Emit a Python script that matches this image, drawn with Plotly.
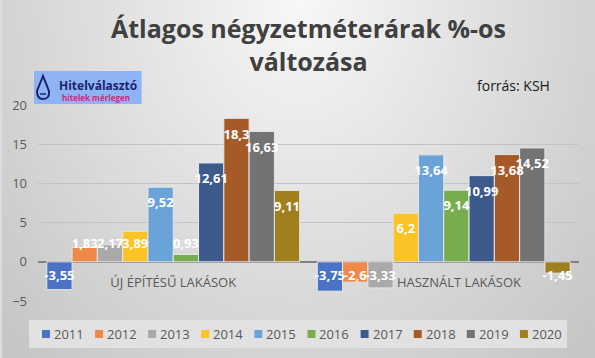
import zlib, struct, base64, math
import plotly.graph_objects as go

# ---------------- data ----------------
categories = ["ÚJ ÉPÍTÉSŰ LAKÁSOK", "HASZNÁLT LAKÁSOK"]
years = ["2011", "2012", "2013", "2014", "2015", "2016", "2017", "2018", "2019", "2020"]
values_new = [-3.55, 1.83, 2.17, 3.89, 9.52, 0.93, 12.61, 18.3, 16.63, 9.11]
values_used = [-3.75, -2.6, -3.33, 6.2, 13.64, 9.14, 10.99, 13.68, 14.52, -1.45]
colors = ["#4a73c6", "#ee8948", "#a9a9a9", "#fcc326", "#6aa3d8", "#76ae4f",
          "#3c5a8b", "#a65a28", "#737373", "#a07f1e"]
y_ticks = [-5, 0, 5, 10, 15, 20]

# ---------------- layout constants ----------------
W, H = 595, 358
L, R, T, B = 36, 16, 105, 57
PW, PH = W - L - R, H - T - B
YMIN, YMAX = -5, 20
UNIT_PX = PH / (YMAX - YMIN)
LBL_OFF = 17 / UNIT_PX  # label offset in data units


def px(x):
    return (x - L) / PW


def py(y):
    return (H - B - y) / PH


# ---------------- background gradient image ----------------
def make_png(w, h, rows):
    raw = b"".join(b"\x00" + bytes(r) for r in rows)

    def chunk(t, d):
        c = struct.pack(">I", len(d)) + t + d
        return c + struct.pack(">I", zlib.crc32(t + d) & 0xFFFFFFFF)

    return (b"\x89PNG\r\n\x1a\n" + chunk(b"IHDR", struct.pack(">IIBBBBB", w, h, 8, 0, 0, 0, 0))
            + chunk(b"IDAT", zlib.compress(raw)) + chunk(b"IEND", b""))


gw, gh = 119, 72
rows = []
for j in range(gh):
    row = []
    for i in range(gw):
        dx = (i / (gw - 1) * W - 297) / 297
        dy = (j / (gh - 1) * H) / 358
        d = math.sqrt(dx * dx + dy * dy)
        row.append(max(0, min(255, int(248 - 36 * d))))
    rows.append(row)
bg_uri = "data:image/png;base64," + base64.b64encode(make_png(gw, gh, rows)).decode()

FONT = "Open Sans"

fig = go.Figure()

for k, yr in enumerate(years):
    vals = [values_new[k], values_used[k]]
    fig.add_trace(go.Bar(
        x=categories, y=vals, name=yr,
        marker=dict(color=colors[k], line=dict(color="#e6e6e6", width=1)),
        offsetgroup=str(k), showlegend=False, hoverinfo="x+y+name",
    ))

for k, yr in enumerate(years):
    vals = [values_new[k], values_used[k]]
    ly = [max(v - LBL_OFF, LBL_OFF) if v >= 0 else -1.9 for v in vals]
    fig.add_trace(go.Scatter(
        x=categories, y=ly, mode="text",
        text=[("%g" % v).replace(".", ",") for v in vals],
        textfont=dict(family=FONT, size=13, color="white", weight="bold"),
        textposition="middle center",
        offsetgroup=str(k), showlegend=False, hoverinfo="skip", cliponaxis=False,
    ))

shapes = []
annotations = []

# legend box
shapes.append(dict(type="rect", xref="paper", yref="paper", x0=px(27), x1=px(567),
                   y0=py(348), y1=py(320), fillcolor="#e1e1e1", line=dict(width=0), layer="below"))
for k, yr in enumerate(years):
    x0 = 40 + k * 53.3
    shapes.append(dict(type="rect", xref="paper", yref="paper", x0=px(x0), x1=px(x0 + 8),
                       y0=py(338), y1=py(330), fillcolor=colors[k], line=dict(width=0)))
    annotations.append(dict(text=yr, xref="paper", yref="paper", x=px(x0 + 10), y=py(334),
                            xanchor="left", yanchor="middle", showarrow=False,
                            font=dict(family=FONT, size=13, color="#595959")))

# logo
shapes.append(dict(type="rect", xref="paper", yref="paper", x0=px(32), x1=px(140),
                   y0=py(104), y1=py(71), fillcolor="#8fb4f6", line=dict(width=0)))
drop = "M {a},{b} L {c},{d} Q {e},{f} {g},{h} Q {i},{j} {k},{l} Z".format(
    a=px(41), b=py(76), c=px(35), d=py(91), e=px(35), f=py(99), g=px(41), h=py(99),
    i=px(48), j=py(99), k=px(47), l=py(91))
shapes.append(dict(type="path", xref="paper", yref="paper", path=drop,
                   fillcolor="rgba(0,0,0,0)", line=dict(color="#1b2370", width=2)))
shapes.append(dict(type="line", xref="paper", yref="paper", x0=px(38), x1=px(44),
                   y0=py(94), y1=py(94), line=dict(color="#1b2370", width=1.5)))
annotations.append(dict(text="<b>Hitelválasztó</b>", xref="paper", yref="paper", x=px(55), y=py(85),
                        xanchor="left", yanchor="middle", showarrow=False,
                        font=dict(family=FONT, size=12, color="#1b2370")))
annotations.append(dict(text="<b>hitelek mérlegen</b>", xref="paper", yref="paper", x=px(58), y=py(97.5),
                        xanchor="left", yanchor="middle", showarrow=False,
                        font=dict(family=FONT, size=8, color="#c2307a")))

# source
annotations.append(dict(text="forrás: KSH", xref="paper", yref="paper", x=px(475), y=py(85),
                        xanchor="left", yanchor="middle", showarrow=False,
                        font=dict(family=FONT, size=14, color="#1a1a1a")))

# category tick texts (second one nudged right as in the reference)
tick_text = [categories[0], "\u00a0" * 9 + categories[1]]

fig.update_layout(
    width=W, height=H,
    margin=dict(l=L, r=R, t=T, b=B, pad=0),
    paper_bgcolor="#dcdcdc", plot_bgcolor="rgba(0,0,0,0)",
    barmode="group", bargap=0.065, bargroupgap=0,
    scattermode="group",
    title=dict(text="<b>Átlagos négyzetméterárak %-os<br>változása</b>",
               x=0.5, xanchor="center", xref="paper", y=1 - 38 / H, yanchor="top",
               font=dict(family=FONT, size=25, color="#404040")),
    font=dict(family=FONT),
    images=[dict(source=bg_uri, xref="paper", yref="paper", x=px(0), y=py(0),
                 sizex=W / PW, sizey=H / PH, sizing="stretch", xanchor="left",
                 yanchor="top", layer="below")],
    shapes=shapes, annotations=annotations,
    xaxis=dict(type="category", anchor="free", position=(0 - YMIN) / (YMAX - YMIN),
               tickvals=categories, ticktext=tick_text,
               showline=False, showgrid=False, ticks="", ticklabelstandoff=11,
               tickfont=dict(family=FONT, size=13, color="#595959")),
    yaxis=dict(range=[YMIN, YMAX], tickvals=y_ticks, showgrid=True, gridcolor="#c3c3c3",
               gridwidth=1, zeroline=True, zerolinecolor="#808080", zerolinewidth=2,
               ticks="", ticklabelstandoff=10,
               tickfont=dict(family=FONT, size=13, color="#595959")),
    hovermode="closest",
)

fig.write_html("out.html", config={"displayModeBar": False},
               post_script="document.body.style.margin='0';document.body.style.overflow='hidden';")
